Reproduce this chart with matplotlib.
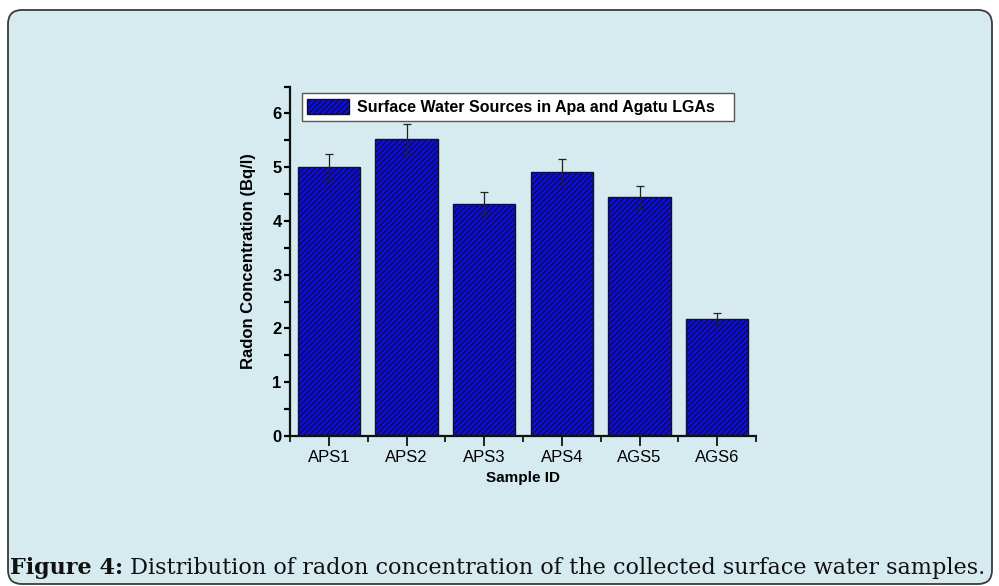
import numpy as np
import matplotlib
matplotlib.use('Agg')
import matplotlib.pyplot as plt
from matplotlib.patches import FancyBboxPatch
from matplotlib.transforms import IdentityTransform

# Data
samples = ['APS1', 'APS2', 'APS3', 'APS4', 'AGS5', 'AGS6']
radon = [5.0, 5.53, 4.32, 4.91, 4.44, 2.17]
radon_err = [0.24, 0.28, 0.21, 0.24, 0.21, 0.11]
series_label = 'Surface Water Sources in Apa and Agatu LGAs'
caption_bold = 'Figure 4:'
caption_text = ' Distribution of radon concentration of the collected surface water samples.'

plt.rcParams['font.family'] = ['Liberation Sans', 'DejaVu Sans']
plt.rcParams['hatch.linewidth'] = 1.0

W, H = 999, 586
fig = plt.figure(figsize=(W / 100, H / 100), dpi=100)
fig.patch.set_facecolor('white')

# rounded light-blue panel behind everything
panel = FancyBboxPatch((8, 2), 984, 574, boxstyle='round,pad=0,rounding_size=14',
                       transform=IdentityTransform(), facecolor='#d6ebf0',
                       edgecolor='#3a3a3a', lw=1.3, zorder=-5)
fig.add_artist(panel)

ax = fig.add_axes([290 / W, 150 / H, 466 / W, 349.5 / H])
ax.set_facecolor('none')

x = np.arange(len(samples))
ax.bar(x, radon, width=0.8, color='#0b0bf0', edgecolor='#10102a', hatch='//////',
       linewidth=1.0, label=series_label, yerr=radon_err, capsize=3,
       error_kw=dict(elinewidth=0.9, capthick=0.9, ecolor='#222222'))

ax.set_xlim(-0.5, 5.5)
ax.set_ylim(0, 6.5)
ax.set_xticks(x)
ax.set_xticklabels(samples)
ax.set_xticks(np.arange(-0.5, 6, 1), minor=True)
ax.set_yticks(range(7))
ax.set_yticks(np.arange(0.5, 6.6, 1), minor=True)

for s in ['top', 'right']:
    ax.spines[s].set_visible(False)
for s in ['left', 'bottom']:
    ax.spines[s].set_linewidth(1.6)
    ax.spines[s].set_color('#111111')

ax.tick_params(axis='y', which='major', direction='out', length=4, width=1.6,
               labelsize=12, pad=2)
ax.tick_params(axis='y', which='minor', direction='out', length=4, width=1.6)
ax.tick_params(axis='x', which='major', direction='out', length=7, width=1.2,
               labelsize=12, pad=3)
ax.tick_params(axis='x', which='minor', direction='out', length=4, width=1.2)
for lbl in ax.get_yticklabels():
    lbl.set_fontweight('bold')

ax.set_ylabel('Radon Concentration (Bq/l)', fontweight='bold', fontsize=12)
ax.yaxis.set_label_coords(-0.072, 0.5)
ax.set_xlabel('Sample ID', fontweight='bold', fontsize=11)
ax.xaxis.set_label_coords(0.5, -0.1)

leg = ax.legend(loc='upper left', bbox_to_anchor=(0.025, 0.9, 0.927, 0.0805),
                mode='expand', fancybox=False, framealpha=1, facecolor='white',
                edgecolor='#555555', prop=dict(weight='bold', size=11.5),
                handlelength=2.6, handleheight=1.1, handletextpad=0.5,
                borderpad=0.35, borderaxespad=0)
leg.get_frame().set_linewidth(1.0)

# caption with bold prefix
renderer = fig.canvas.get_renderer()
t1 = fig.text(10 / W, 12 / H, caption_bold, fontsize=16.15, fontweight='bold',
              family='DejaVu Serif', color='#111111')
bb = t1.get_window_extent(renderer)
fig.text(bb.x1 / W, 12 / H, caption_text, fontsize=16.15, family='DejaVu Serif',
         color='#111111')

fig.savefig('out.png', dpi=100)
